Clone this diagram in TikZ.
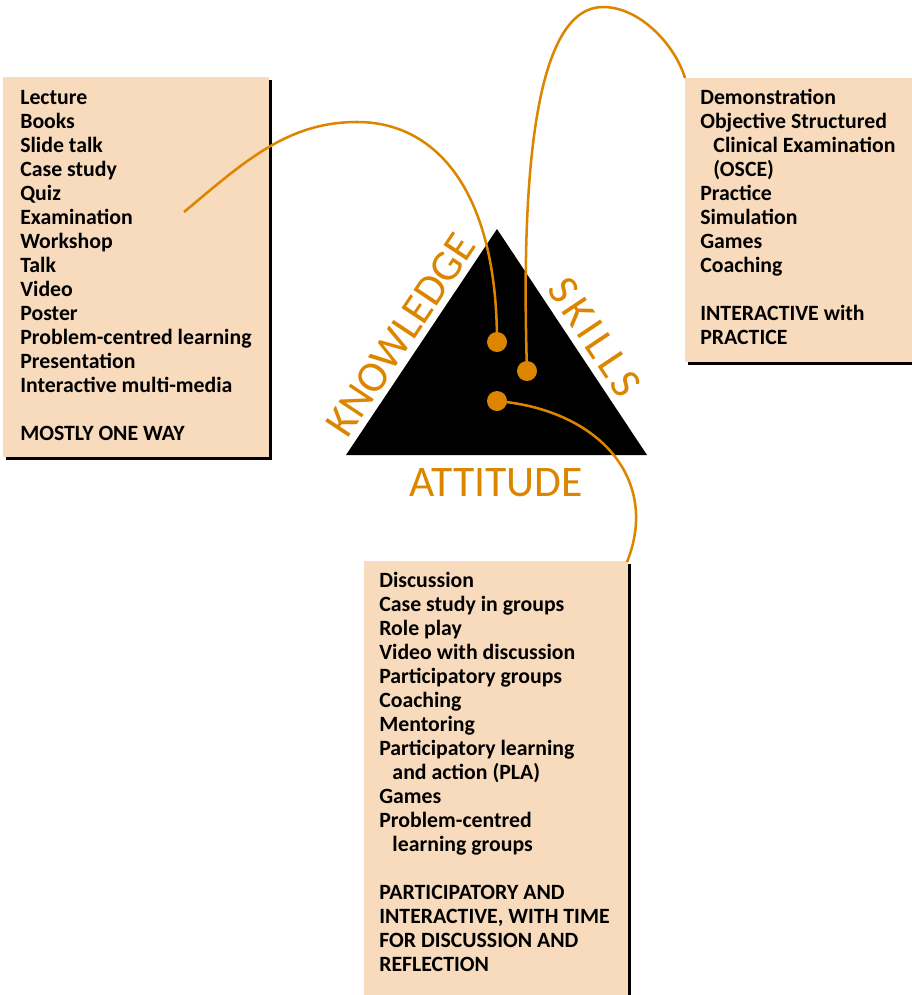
\documentclass[tikz,border=0pt]{standalone}
\usepackage{fontspec}
\setmainfont{Carlito}
\usepackage{tikz}
\usetikzlibrary{calc}
\definecolor{peach}{HTML}{F8DBBC}
\definecolor{amber}{HTML}{DC8600}
\tikzset{
  panel/.style={fill=peach},
  shade/.style={fill=black},
  items/.style={anchor=north west, align=left, inner sep=0pt,
    font=\bfseries\fontsize{15.5}{17.07}\selectfont},
  corner/.style={text=amber, font=\fontsize{31}{31}\selectfont, inner sep=0pt},
  dot/.style={circle, fill=amber, minimum size=0.5cm, inner sep=0pt},
  link/.style={draw=amber, line width=1.8pt},
}

\begin{document}
\begin{tikzpicture}[x=0.025cm, y=-0.025cm]
  \useasboundingbox[fill=white] (0,0) rectangle (912,995);

  % boxes with their shadow
  \fill[shade] (6,80) rectangle (272,460);
  \fill[panel] (3,77) rectangle (269,457);
  \fill[shade] (688,81) rectangle (912,365);
  \fill[panel] (685,78) rectangle (912,362);
  \fill[shade] (367,564) rectangle (631,995);
  \fill[panel] (364,561) rectangle (628,995);

  \node[items] (oneway) at (20,90) {Lecture\\Books\\Slide talk\\Case study\\Quiz\\
    Examination\\Workshop\\Talk\\Video\\Poster\\Problem-centred learning\\
    Presentation\\Interactive multi-media\\[17.07pt]MOSTLY ONE WAY};
  \node[items] (practice) at (700,89) {Demonstration\\Objective Structured\\
    \hspace*{0.33cm}Clinical Examination\\\hspace*{0.33cm}(OSCE)\\Practice\\
    Simulation\\Games\\Coaching\\[17.07pt]INTERACTIVE with\\PRACTICE};
  \node[items] (groups) at (379,572) {Discussion\\Case study in groups\\Role play\\
    Video with discussion\\Participatory groups\\Coaching\\Mentoring\\
    Participatory learning\\\hspace*{0.33cm}and action (PLA)\\Games\\
    Problem-centred\\\hspace*{0.33cm}learning groups\\[17.07pt]
    PARTICIPATORY AND\\INTERACTIVE, WITH TIME\\FOR DISCUSSION AND\\REFLECTION};

  % triangle
  \coordinate (left) at (346,455);
  \coordinate (top) at (497,229);
  \coordinate (right) at (647,455);
  \fill (left) -- (top) -- (right) -- cycle;

  \node[corner, rotate=56.3] (knowledge) at (401,335) {KNOWLEDGE};
  \node[corner, rotate=-56.3] (skills) at (595,337)
    {\addfontfeature{LetterSpace=10}SKILLS};
  \node[corner] (attitude) at (496,483) {ATTITUDE};

  \node[dot] (kdot) at (497,342) {};
  \node[dot] (sdot) at (527,371) {};
  \node[dot] (adot) at (497,401) {};

  \coordinate (kend) at (184,212);
  \coordinate (kpeak) at (357,122);
  \coordinate (send) at (685,78);
  \coordinate (speak) at (603,7);
  \coordinate (aend) at (627,562);

  \draw[link] (kdot.center) .. controls (497,192) and (437,122) .. (kpeak)
    .. controls (287,122) and (244,162) .. (kend);
  \draw[link] (sdot.center) .. controls (520,150) and (540,7) .. (speak)
    .. controls (640,7) and (675,45) .. (send);
  \draw[link] (adot.center) .. controls (600,410) and (660,480) .. (aend);
\end{tikzpicture}
\end{document}
